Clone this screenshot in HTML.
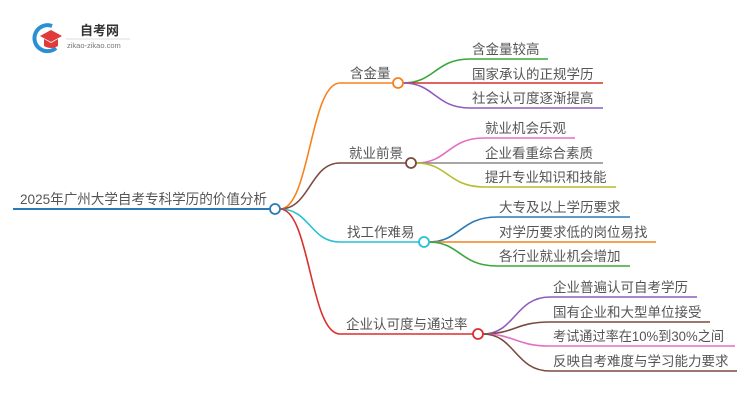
<!DOCTYPE html>
<html><head><meta charset="utf-8"><style>
body{margin:0;width:750px;height:410px;background:#fff;overflow:hidden}
svg text{font-family:"Liberation Sans","Noto Sans CJK SC",sans-serif;fill:#555}
</style></head><body>
<svg width="750" height="410" viewBox="0 0 750 410" xmlns="http://www.w3.org/2000/svg">
<!-- logo -->
<path d="M52 26 A13 13 0 1 0 56 48" stroke="#2b8fd6" stroke-width="4" fill="none"/>
<path d="M40 36 L51 30 L62 36 L51 42 Z" fill="#e03a3a"/>
<path d="M44 39 L44 46 Q51 50 58 46 L58 39 L51 43 Z" fill="#e03a3a"/>
<text x="80" y="35" font-size="13" font-weight="bold" style="fill:#333">自考网</text>
<line x1="66" y1="39" x2="130" y2="39" stroke="#ddd"/>
<text x="67" y="48" font-size="7.5" style="fill:#777">zikao-zikao.com</text>

<!-- root -->
<line x1="13" y1="209" x2="270" y2="209" stroke="#2a7ab8" stroke-width="2"/>
<text x="20" y="204" font-size="14" textLength="247" lengthAdjust="spacingAndGlyphs">2025年广州大学自考专科学历的价值分析</text>

<g fill="none" stroke-width="1.6">
<path d="M280 209 C310 209 310 83 340 83 L393 83" stroke="#f5821f"/>
<path d="M280 209 C310 209 310 163 340 163 L406 163" stroke="#7a4a3e"/>
<path d="M280 209 C310 209 310 242 340 242 L419 242" stroke="#25c1d6"/>
<path d="M280 209 C310 209 310 334 340 334 L473 334" stroke="#d9302c"/>

<path d="M403 83 C435 83 435 59 470 59 L548 59" stroke="#3aa63a"/>
<path d="M403 83 L603 83" stroke="#d9302c"/>
<path d="M403 83 C435 83 435 108 470 108 L603 108" stroke="#8e5bbf"/>

<path d="M416 163 C448 163 448 138 484 138 L575 138" stroke="#e36fc4"/>
<path d="M416 163 L603 163" stroke="#888"/>
<path d="M416 163 C448 163 448 187 484 187 L616 187" stroke="#b8bc2a"/>

<path d="M429 242 C460 242 460 217 497 217 L630 217" stroke="#2a7ab8"/>
<path d="M429 242 L656 242" stroke="#f5821f"/>
<path d="M429 242 C460 242 460 266 497 266 L630 266" stroke="#3aa63a"/>

<path d="M483 334 C515 334 515 297 550 297 L697 297" stroke="#8e5bbf"/>
<path d="M483 334 C515 334 515 322 550 322 L710 322" stroke="#7a4a3e"/>
<path d="M483 334 C515 334 515 346 550 346 L735 346" stroke="#e36fc4"/>
<path d="M483 334 C515 334 515 371 550 371 L737 371" stroke="#7a4a3e"/>
</g>

<g fill="#fff" stroke-width="1.8">
<circle cx="275" cy="209" r="5" stroke="#2a7ab8"/>
<circle cx="398" cy="83" r="5" stroke="#f5821f"/>
<circle cx="411" cy="163" r="5" stroke="#7a4a3e"/>
<circle cx="424" cy="242" r="5" stroke="#25c1d6"/>
<circle cx="478" cy="334" r="5" stroke="#d9302c"/>
</g>

<g font-size="13.5">
<text x="350" y="78">含金量</text>
<text x="349" y="158">就业前景</text>
<text x="347" y="237">找工作难易</text>
<text x="346" y="329">企业认可度与通过率</text>
</g>
<g font-size="13.5">
<text x="472" y="54">含金量较高</text>
<text x="472" y="79">国家承认的正规学历</text>
<text x="472" y="103">社会认可度逐渐提高</text>
<text x="485" y="133">就业机会乐观</text>
<text x="485" y="158">企业看重综合素质</text>
<text x="485" y="182">提升专业知识和技能</text>
<text x="499" y="212">大专及以上学历要求</text>
<text x="499" y="237">对学历要求低的岗位易找</text>
<text x="499" y="261">各行业就业机会增加</text>
<text x="553" y="292">企业普遍认可自考学历</text>
<text x="553" y="317">国有企业和大型单位接受</text>
<text x="553" y="341" textLength="171" lengthAdjust="spacingAndGlyphs">考试通过率在10%到30%之间</text>
<text x="553" y="366">反映自考难度与学习能力要求</text>
</g>
</svg>
</body></html>
